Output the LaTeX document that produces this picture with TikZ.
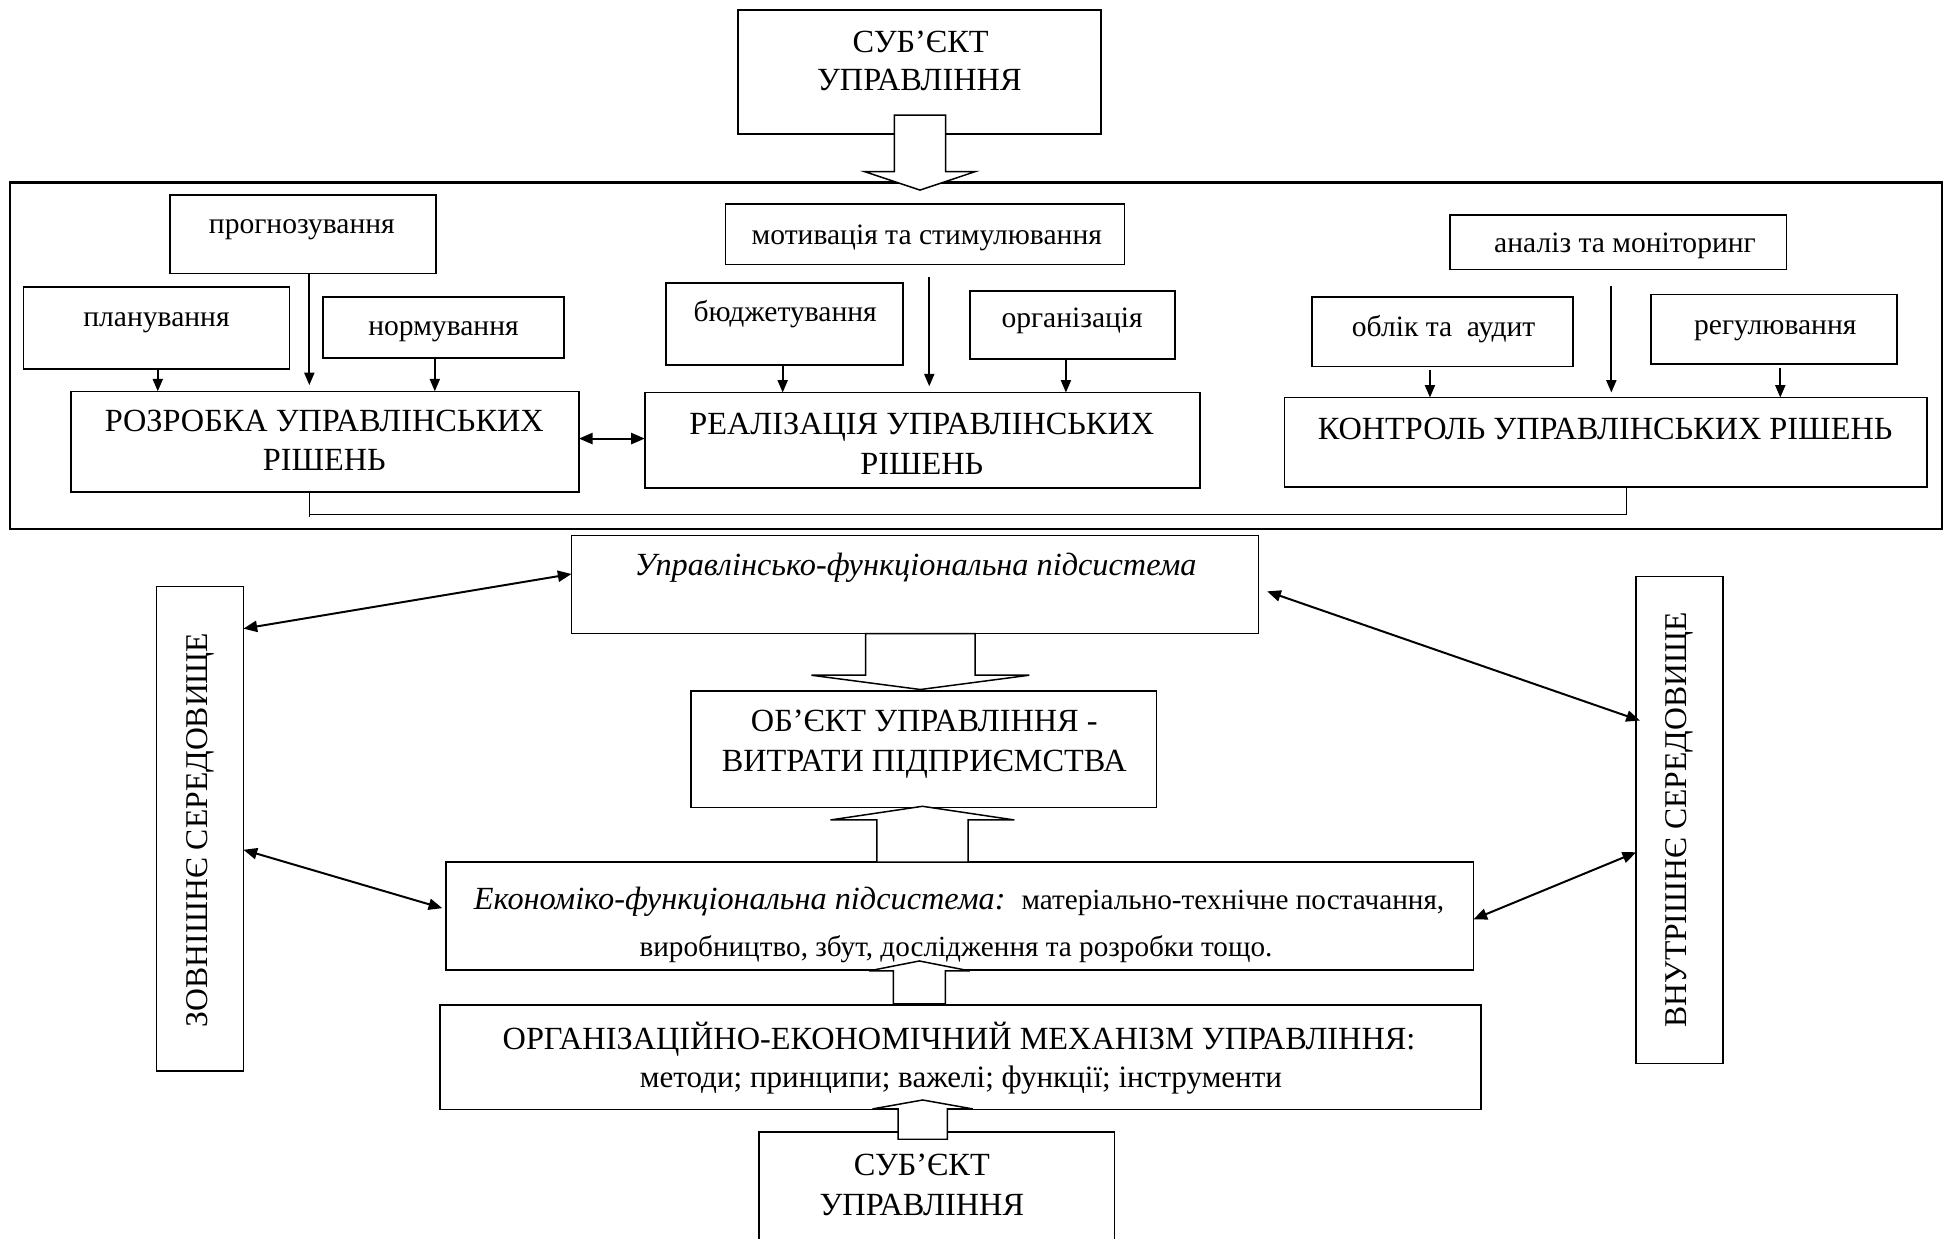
\documentclass[tikz,border=0pt]{standalone}
\usepackage{fontspec}
\setmainfont{Liberation Serif}
\usetikzlibrary{arrows.meta,calc}
\newcommand{\bx}[5]{\node[box, minimum width={#4-#2}, minimum height={#5-#3}] (#1) at ({(#2+#4)/2},{(#3+#5)/2}) {};}
\newcommand{\blockarrow}[6]{%
  \filldraw[fill=white, line width=1.2pt] ({#1-#5},#2) -- ({#1-#5},#3) -- ({#1-#6},#3) -- (#1,#4) -- ({#1+#6},#3) -- ({#1+#5},#3) -- ({#1+#5},#2) -- cycle;}
\begin{document}
\begin{tikzpicture}[x=1pt,y=-1pt,
  box/.style={draw, line width=1.3pt, inner sep=0pt, outer sep=0pt},
  arr/.style={-{Triangle[length=10pt,width=8pt]}, line width=1.6pt},
  arr2/.style={{Triangle[length=11pt,width=9pt]}-{Triangle[length=11pt,width=9pt]}, line width=1.6pt},
  big/.style={font=\fontsize{26}{30}\selectfont, inner sep=0pt, anchor=base},
  small/.style={font=\fontsize{23.8}{28}\selectfont, inner sep=0pt, anchor=base}]
\useasboundingbox (0,0) rectangle (1568,996.5);
% boxes
\bx{subt}{594}{8}{886}{108}
\node[box, line width=2pt, minimum width=1555, minimum height=279] (frame) at (785.5,286.5) {};
\bx{prog}{137}{157}{351}{220}
\bx{plan}{19}{231}{233}{297}
\bx{norm}{260}{239}{454}{288}
\bx{rozr}{57}{315}{466}{396}
\bx{motiv}{584}{164}{905}{213}
\bx{budg}{536}{228}{727}{294}
\bx{org}{781}{234}{946}{289}
\bx{real}{519}{316}{966}{393}
\bx{anal}{1167}{173}{1438}{217}
\bx{oblik}{1056}{239}{1266}{295}
\bx{regul}{1329}{237}{1527}{293}
\bx{kontr}{1034}{320}{1551}{392}
\bx{upr}{460}{431}{1013}{510}
\bx{obj}{556}{556}{931}{650}
\bx{econ}{359}{694}{1186}{781}
\bx{orgm}{354}{809}{1192}{893}
\bx{subb}{611}{911}{897}{1010}
\bx{zovn}{126}{472}{196}{862}
\bx{vnutr}{1317}{464}{1387}{856}
% block arrows
\blockarrow{740.5}{92.6}{138.2}{153}{20.6}{44.3}
\blockarrow{740.8}{510}{543.5}{555}{44.1}{87.7}
\blockarrow{742.5}{694}{660}{649}{36.7}{74}
\blockarrow{740}{808}{781.5}{773.5}{21}{40.6}
\blockarrow{742.7}{917}{892.6}{885.4}{19.8}{40.4}
% texts
\node[big] (t1) at (741,42) {СУБ’ЄКТ};
\node[big] (t2) at (740,73) {УПРАВЛІННЯ};
\node[small] (t3) at (243,188) {прогнозування};
\node[small] (t4) at (126,263) {планування};
\node[small] (t5) at (357,270) {нормування};
\node[big] (t6) at (261,347) {РОЗРОБКА УПРАВЛІНСЬКИХ};
\node[big] (t7) at (261,379) {РІШЕНЬ};
\node[small] (t8) at (746,197) {мотивація та стимулювання};
\node[small] (t9) at (632,259) {бюджетування};
\node[small] (t10) at (863,264) {організація};
\node[big] (t11) at (742,350) {РЕАЛІЗАЦІЯ УПРАВЛІНСЬКИХ};
\node[big] (t12) at (742,382) {РІШЕНЬ};
\node[small] (t13) at (1308,203) {аналіз та моніторинг};
\node[small] (t14) at (1162,271) {облік та \ аудит};
\node[small] (t15) at (1429,269) {регулювання};
\node[big] (t16) at (1292,354) {КОНТРОЛЬ УПРАВЛІНСЬКИХ РІШЕНЬ};
\node[big, font=\fontsize{26}{30}\selectfont\itshape] (t17) at (737,463) {Управлінсько-функціональна підсистема};
\node[big] (t18) at (744,589) {ОБ’ЄКТ УПРАВЛІННЯ -};
\node[big] (t19) at (744,621) {ВИТРАТИ ПІДПРИЄМСТВА};
\node[big] (t20) at (772,732) {\textit{Економіко-функціональна підсистема:}\ \ {\fontsize{23.5}{28}\selectfont матеріально-технічне постачання,}};
\node[small, font=\fontsize{23.5}{28}\selectfont] (t21) at (769.5,770) {виробництво, збут, дослідження та розробки тощо.};
\node[big] (t22) at (772,845) {ОРГАНІЗАЦІЙНО-ЕКОНОМІЧНИЙ МЕХАНІЗМ УПРАВЛІННЯ:};
\node[small, font=\fontsize{25}{29}\selectfont] (t23) at (773.5,875) {методи; принципи; важелі; функції; інструменти};
\node[big] (t24) at (742,946) {СУБ’ЄКТ};
\node[big] (t25) at (742,978) {УПРАВЛІННЯ};
\node[big, font=\fontsize{25.5}{30}\selectfont, anchor=center, rotate=90] (t26) at (161,668) {ЗОВНІШНЄ СЕРЕДОВИЩЕ};
\node[big, font=\fontsize{25.5}{30}\selectfont, anchor=center, rotate=90] (t27) at (1352,660) {ВНУТРІШНЄ СЕРЕДОВИЩЕ};
% small arrows
\draw[arr] (plan.south -| 127,0) -- (rozr.north -| 127,0);
\draw[arr] (prog.south -| 249,0) -- ($(rozr.north -| 249,0)+(0,-5)$);
\draw[arr] (norm.south -| 350,0) -- (rozr.north -| 350,0);
\draw[arr] (budg.south -| 630,0) -- (real.north -| 630,0);
\draw[arr] ($(motiv.south -| 748,0)+(0,10)$) -- ($(real.north -| 748,0)+(0,-5)$);
\draw[arr] (org.south -| 858,0) -- (real.north -| 858,0);
\draw[arr] ($(oblik.south -| 1151,0)+(0,3)$) -- (kontr.north -| 1151,0);
\draw[arr] ($(anal.south -| 1297,0)+(0,13)$) -- ($(kontr.north -| 1297,0)+(0,-4)$);
\draw[arr] ($(regul.south -| 1433,0)+(0,3)$) -- (kontr.north -| 1433,0);
\draw[arr2] (rozr.east |- 0,353) -- (real.west |- 0,353);
\draw[line width=1.2pt] (rozr.south -| 249,0) -- (249,416) (249,414) -- (1309,414) -- (kontr.south -| 1309,0);
% side arrows
\draw[arr2] (zovn.east |- 0,506) -- (upr.west |- 0,462);
\draw[arr2] (zovn.east |- 0,684) -- ($(econ.west |- 0,731)+(-3,0)$);
\draw[arr2] ($(upr.east |- 0,476)+(7,0)$) -- ($(vnutr.west |- 0,580)+(3,0)$);
\draw[arr2] (econ.east |- 0,740) -- (vnutr.west |- 0,686);
\end{tikzpicture}
\end{document}
